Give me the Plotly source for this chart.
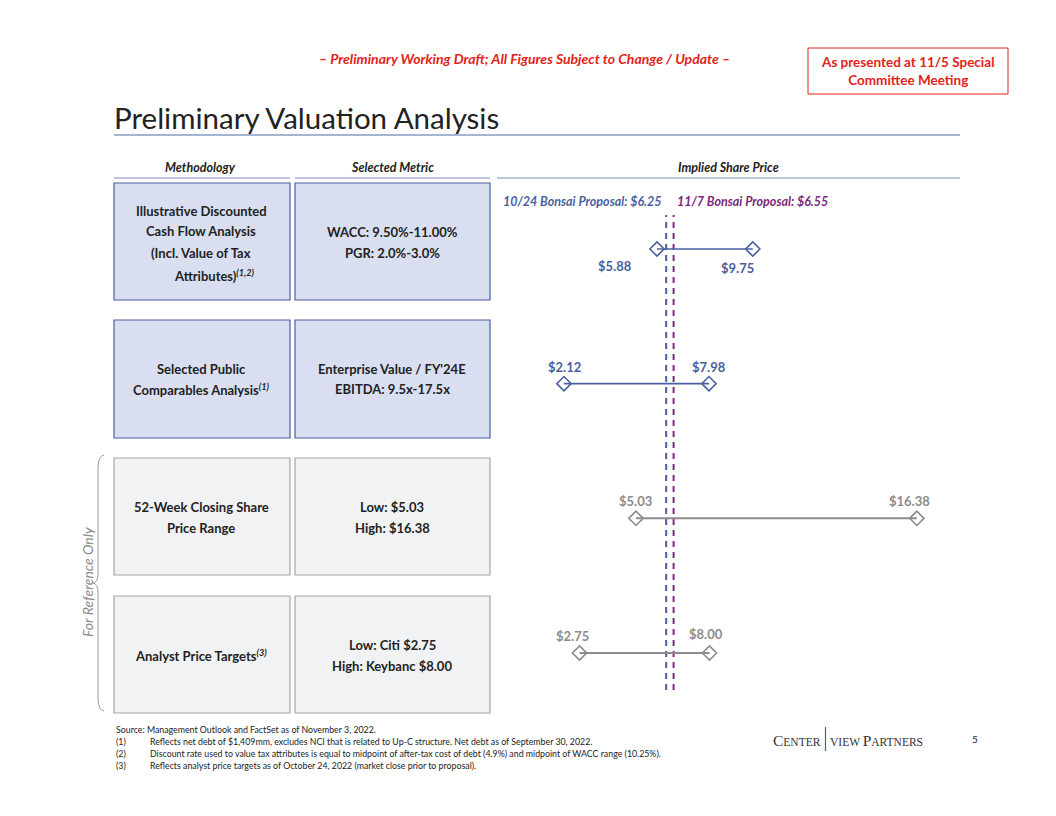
import plotly.graph_objects as go

W, H = 1040, 800   # page body adds an 8px margin
OFF = 8
FONT = "Lato"

# ---------------- data ----------------
methodology = [
    ["Illustrative Discounted", "Cash Flow Analysis", "(Incl. Value of Tax", "Attributes)<sup><i>(1,2)</i></sup>"],
    ["Selected Public", "Comparables Analysis<sup><i>(1)</i></sup>"],
    ["52-Week Closing Share", "Price Range"],
    ["Analyst Price Targets<sup><i>(3)</i></sup>"],
]
metrics = [
    ["WACC: 9.50%-11.00%", "PGR: 2.0%-3.0%"],
    ["Enterprise Value / FY'24E", "EBITDA: 9.5x-17.5x"],
    ["Low: $5.03", "High: $16.38"],
    ["Low: Citi $2.75", "High: Keybanc $8.00"],
]
low_values = [5.88, 2.12, 5.03, 2.75]
high_values = [9.75, 7.98, 16.38, 8.00]
row_style = ["blue", "blue", "gray", "gray"]
proposal_labels = ["10/24 Bonsai Proposal: $6.25", "11/7 Bonsai Proposal: $6.55"]
proposal_values = [6.25, 6.55]

footnotes = [
    ("", "Source: Management Outlook and FactSet as of November 3, 2022."),
    ("(1)", "Reflects net debt of $1,409mm, excludes NCI that is related to Up-C structure. Net debt as of September 30, 2022."),
    ("(2)", "Discount rate used to value tax attributes is equal to midpoint of after-tax cost of debt (4.9%) and midpoint of WACC range (10.25%)."),
    ("(3)", "Reflects analyst price targets as of October 24, 2022 (market close prior to proposal)."),
]

# ---------------- styling ----------------
BLUE = "#4a5fa0"
PURPLE = "#7a2a78"
GRAY = "#8c8c8c"
DARK = "#222222"
RED = "#e2231a"
fills = {"blue": "#d9dff0", "gray": "#f1f2f4"}
borders = {"blue": "#4a5fa0", "gray": "#a6a6a6"}
lcolors = {"blue": BLUE, "gray": GRAY}


def X(px):
    return (px - OFF) / W


def Y(py):
    return 1 - (py - OFF) / H


n = len(low_values)
ypos = [n - 1 - i for i in range(n)]

# pixel geometry of the football field
px_left, px_right = 497, 960
px_top, px_bot = 185, 690
ppd = 24.74  # px per dollar
x0 = 2.12 - (564 - px_left) / ppd
x1 = 2.12 + (px_right - 564) / ppd
row_spacing = 134.67
y_hi = 3 + (249 - px_top) / row_spacing
y_lo = -(px_bot - 653) / row_spacing

fig = go.Figure()

# proposal dashed lines
for v, c in zip(proposal_values, [BLUE, PURPLE]):
    fig.add_trace(go.Scatter(
        x=[v, v], y=[y_lo, 3 + (249 - 215) / row_spacing], mode="lines",
        line=dict(color=c, width=2, dash="6px,5px"), hoverinfo="skip", showlegend=False))

# range bars
for i in range(n):
    c = lcolors[row_style[i]]
    fig.add_trace(go.Scatter(
        x=[low_values[i], high_values[i]], y=[ypos[i], ypos[i]],
        mode="lines+markers",
        line=dict(color=c, width=1.6 if row_style[i] == "blue" else 2),
        marker=dict(symbol="diamond-open", size=11, color=c, line=dict(width=1.6)),
        hoverinfo="skip", showlegend=False))

# value labels (offsets per row in px)
label_offsets = [
    ((-42, -17), (-15, -19)),
    ((0, 17), (0, 17)),
    ((0, 17), (-7, 17)),
    ((-7, 17), (-3, 19)),
]
for i in range(n):
    c = lcolors[row_style[i]]
    for v, (dx, dy) in zip([low_values[i], high_values[i]], label_offsets[i]):
        fig.add_annotation(
            x=v, y=ypos[i], xref="x", yref="y", text=f"<b>${v:.2f}</b>",
            showarrow=False, xshift=dx, yshift=dy, xanchor="center", yanchor="middle",
            font=dict(family=FONT, size=13, color=c))

# proposal labels
fig.add_annotation(x=proposal_values[0], y=Y(202), xref="x", yref="paper",
                   text=f"<b><i>{proposal_labels[0]}</i></b>", showarrow=False,
                   xanchor="right", yanchor="middle", xshift=-2,
                   font=dict(family=FONT, size=12.5, color=BLUE))
fig.add_annotation(x=proposal_values[1], y=Y(202), xref="x", yref="paper",
                   text=f"<b><i>{proposal_labels[1]}</i></b>", showarrow=False,
                   xanchor="left", yanchor="middle", xshift=1,
                   font=dict(family=FONT, size=12.5, color=PURPLE))

shapes = []
annotations = []


def txt(px, py, text, size, color=DARK, xanchor="center", family=FONT, **kw):
    annotations.append(dict(x=X(px), y=Y(py), xref="paper", yref="paper", text=text,
                            showarrow=False, xanchor=xanchor, yanchor="middle",
                            font=dict(family=family, size=size, color=color), **kw))


# boxes
box_rows = [(183, 300), (320, 438), (458, 575), (596, 713)]
for i, (t, b) in enumerate(box_rows):
    for (l, r) in [(114, 290), (295, 490)]:
        shapes.append(dict(type="rect", xref="paper", yref="paper",
                           x0=X(l), x1=X(r), y0=Y(b), y1=Y(t),
                           fillcolor=fills[row_style[i]],
                           line=dict(color=borders[row_style[i]], width=1.2), layer="below"))

line_h = 21
row_centers = [242, 379, 517, 655]
for i in range(n):
    for col, lines, cx in [(0, methodology[i], 201), (1, metrics[i], 392)]:
        k = len(lines)
        start = row_centers[i] - (k - 1) * line_h / 2
        if i == 0 and col == 1:
            start = 232
        for j, ln in enumerate(lines):
            xx = cx
            if i == 0 and col == 0 and j == 3:
                xx = 214
            txt(xx, start + j * line_h + (2 if (i == 0 and j == 3) else 0), f"<b>{ln}</b>", 13)

# headers
for label, cx, l, r in [("Methodology", 200, 114, 290), ("Selected Metric", 392, 295, 490),
                        ("Implied Share Price", 728, 497, 960)]:
    txt(cx, 168, f"<b><i>{label}</i></b>", 12.5)
    shapes.append(dict(type="line", xref="paper", yref="paper", x0=X(l), x1=X(r),
                       y0=Y(178), y1=Y(178), line=dict(color="#7d8fbf", width=1.2)))

# title
txt(112, 118, "Preliminary Valuation Analysis", 29.5, xanchor="left")
shapes.append(dict(type="line", xref="paper", yref="paper", x0=X(114), x1=X(960),
                   y0=Y(135), y1=Y(135), line=dict(color="#4a6aa8", width=1.2)))

# draft banner
txt(524, 59, "<b><i>– Preliminary Working Draft; All Figures Subject to Change / Update –</i></b>",
    14, RED)
shapes.append(dict(type="rect", xref="paper", yref="paper", x0=X(808), x1=X(1008),
                   y0=Y(94), y1=Y(48), line=dict(color=RED, width=1), fillcolor="white"))
txt(908, 71, "<b>As presented at 11/5 Special<br>Committee Meeting</b>", 13.5, RED)

# "For Reference Only" with brace
txt(87, 582, "<i>For Reference Only</i>", 14, "#8a8a8a", textangle=-90)
path = (f"M {X(104)},{Y(455)} Q {X(98)},{Y(456)} {X(98)},{Y(468)} "
        f"L {X(98)},{Y(574)} Q {X(98)},{Y(582)} {X(93)},{Y(583)} "
        f"Q {X(98)},{Y(584)} {X(98)},{Y(592)} L {X(98)},{Y(698)} "
        f"Q {X(98)},{Y(710)} {X(104)},{Y(711)}")
shapes.append(dict(type="path", xref="paper", yref="paper", path=path,
                   line=dict(color="#9a9a9a", width=1)))

# footnotes
for k, (num, note) in enumerate(footnotes):
    py = 729 + k * 12.3
    if num:
        txt(114, py, num, 8.8, xanchor="left")
        txt(148, py, note, 8.8, xanchor="left")
    else:
        txt(114, py, note, 8.8, xanchor="left")

# logo and page number
txt(823, 740, "C<span style='font-size:11.5px'>ENTER</span>", 15.5, "#333333",
    xanchor="right", family="Liberation Serif")
txt(828, 740, "<span style='font-size:11.5px'>VIEW </span>P<span style='font-size:11.5px'>ARTNERS</span>",
    15.5, "#333333", xanchor="left", family="Liberation Serif")
shapes.append(dict(type="line", xref="paper", yref="paper", x0=X(825.5), x1=X(825.5),
                   y0=Y(751), y1=Y(727), line=dict(color=BLUE, width=1.2)))
txt(975, 739, "5", 10)

for a in annotations:
    fig.add_annotation(**a)

fig.update_layout(
    width=W, height=H, margin=dict(l=0, r=0, t=0, b=0),
    paper_bgcolor="white", plot_bgcolor="rgba(0,0,0,0)",
    shapes=shapes, showlegend=False,
    xaxis=dict(domain=[X(px_left), X(px_right)], range=[x0, x1], visible=False, fixedrange=True),
    yaxis=dict(domain=[Y(px_bot), Y(px_top)], range=[y_lo, y_hi], visible=False, fixedrange=True),
)

fig.write_html("out.html")
